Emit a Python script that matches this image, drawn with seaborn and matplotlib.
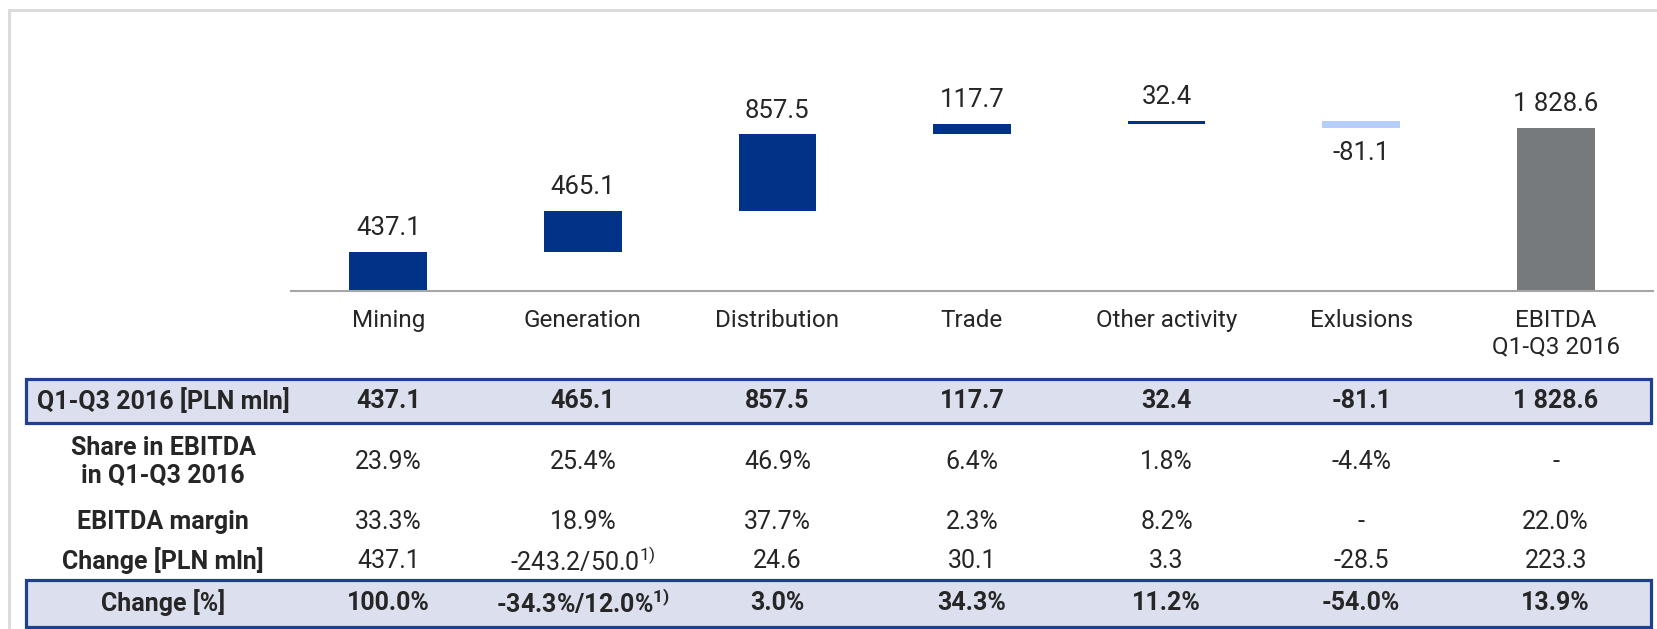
import numpy as np
import pandas as pd
import seaborn as sns
import matplotlib.pyplot as plt
from matplotlib.patches import Rectangle

# datos del grafico (EBITDA por segmento, Q1-Q3 2016)
categories = ["Mining", "Generation", "Distribution", "Trade",
              "Other activity", "Exlusions", "EBITDA\nQ1-Q3 2016"]
values = [437.1, 465.1, 857.5, 117.7, 32.4, -81.1, 1828.6]
bar_colors = ["#003288"] * 5 + ["#b4cdf9", "#767a7c"]

# datos de la tabla
row_labels = ["Q1-Q3 2016 [PLN mln]", "Share in EBITDA\nin Q1-Q3 2016",
              "EBITDA margin", "Change [PLN mln]", "Change [%]"]
ebitda_q1q3 = ["437.1", "465.1", "857.5", "117.7", "32.4", "-81.1", "1 828.6"]
share_ebitda = ["23.9%", "25.4%", "46.9%", "6.4%", "1.8%", "-4.4%", "-"]
ebitda_margin = ["33.3%", "18.9%", "37.7%", "2.3%", "8.2%", "-", "22.0%"]
change_pln = ["437.1", r"-243.2/50.0$^{1)}$", "24.6", "30.1", "3.3", "-28.5", "223.3"]
change_pct = ["100.0%", r"-34.3%/12.0%$^{\mathbf{1)}}$", "3.0%", "34.3%",
              "11.2%", "-54.0%", "13.9%"]

sns.set_style("white")
plt.rcParams["font.family"] = ["Roboto", "DejaVu Sans"]
plt.rcParams["mathtext.fontset"] = "custom"
plt.rcParams["mathtext.rm"] = "Roboto"
plt.rcParams["mathtext.bf"] = "Roboto:bold"

W, H = 1658, 629
fig = plt.figure(figsize=(W / 100, H / 100), dpi=100)
fig.patch.set_facecolor("white")

# marco gris claro
fig.add_artist(Rectangle((9.5 / W, -0.1), 2, (H - 10) / H + 0.1,
                         transform=fig.transFigure, fill=False,
                         ec="#d9d9d9", lw=2))

# grafico de cascada
ax = fig.add_axes([291 / W, (H - 291) / H, 1362 / W, 271 / H])
df = pd.DataFrame({"segment": categories, "value": values})
sns.barplot(data=df, x="segment", y="value", hue="segment",
            palette=bar_colors, width=0.4, saturation=1,
            legend=False, ax=ax)

# base de cada barra: suma acumulada, la ultima (total) parte de cero
bottoms = list(np.concatenate([[0], np.cumsum(values[:-1])[:-1]])) + [0]
for patch, b in zip(ax.patches, bottoms):
    patch.set_y(b)
    patch.set_linewidth(0)

for i, (v, b) in enumerate(zip(values, bottoms)):
    end = b + v
    txt = f"{v:,.1f}".replace(",", " ")
    off = 17 if v > 0 else -18
    ax.annotate(txt, (i, end), xytext=(0, off), textcoords="offset points",
                ha="center", va="center", fontsize=18.5)

ax.set_xlim(-0.5, 6.5)
ax.set_ylim(0, 271 / (163 / 1828.6))
ax.set_yticks([])
ax.set_xlabel("")
ax.set_ylabel("")
ax.tick_params(axis="x", which="major", length=0, pad=13, labelsize=17.5)
ax.set_xticks(np.arange(-0.5, 7), minor=True)
ax.tick_params(axis="x", which="minor", length=7, width=1.5,
               color="#a6a6a6", direction="out")
for s in ["left", "top", "right"]:
    ax.spines[s].set_visible(False)
ax.spines["bottom"].set_color("#a6a6a6")
ax.spines["bottom"].set_linewidth(1.5)

# tabla debajo del grafico
tax = fig.add_axes([291 / W, 0, 1362 / W, 259 / H])
tax.set_xlim(-0.5, 6.5)
tax.set_ylim(629, 370)
tax.axis("off")

def px2x(px):
    return -0.5 + (px - 291) / (1362 / 7)

box_l, box_r = px2x(26), px2x(1651)
for top, bot in [(379, 423), (580, 627)]:
    tax.add_patch(Rectangle((box_l, top), box_r - box_l, bot - top,
                            fc="#dcdfee", ec="#1f3f8f", lw=2.3, clip_on=False))

row_y = [401, 462, 522, 561, 603]
rows = [ebitda_q1q3, share_ebitda, ebitda_margin, change_pln, change_pct]
bold_rows = [True, False, False, False, True]
for y, lab, vals, bold in zip(row_y, row_labels, rows, bold_rows):
    tax.text(px2x(163), y, lab, ha="center", va="center", fontsize=18,
             fontweight="bold", linespacing=1.2, clip_on=False)
    for i, t in enumerate(vals):
        tax.text(i, y, t, ha="center", va="center", fontsize=18,
                 fontweight="bold" if bold else "normal", clip_on=False)

fig.savefig("out.png", dpi=100)
